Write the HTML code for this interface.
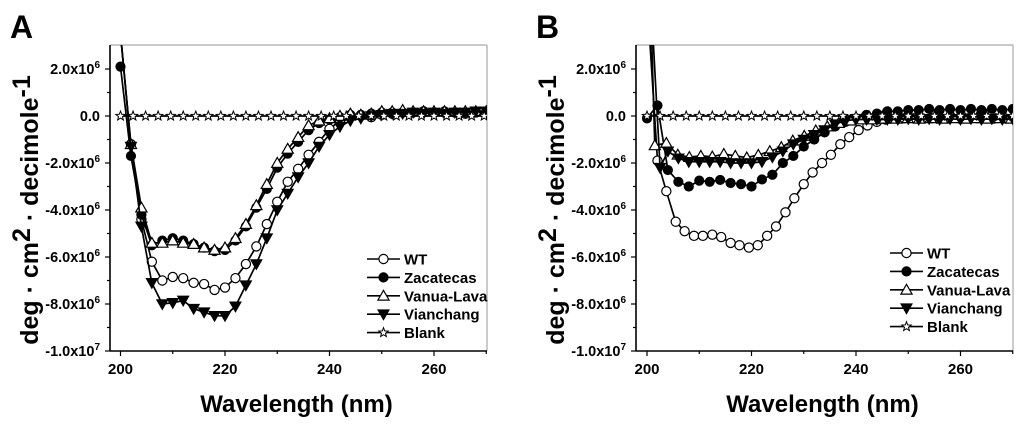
<!DOCTYPE html>
<html><head><meta charset="utf-8"><style>
html,body{margin:0;padding:0;background:#fff;}
svg text{font-family:"Liberation Sans",Arial,sans-serif;font-weight:bold;fill:#000;}
</style></head><body>
<svg id="chart" width="1024" height="424" viewBox="0 0 1024 424" xmlns="http://www.w3.org/2000/svg">
<defs><clipPath id="clipA"><rect x="110" y="45" width="377" height="306"/></clipPath>
<clipPath id="clipB"><rect x="636" y="45" width="377" height="306"/></clipPath></defs>
</svg>
<script>
// Values in units of 1e6 deg·cm2·decimole-1
const xTicks = [200, 220, 240, 260];
const yTicks = [2, 0, -2, -4, -6, -8, -10];
const yTickMant = ["2.0", "0.0", "-2.0", "-4.0", "-6.0", "-8.0", "-1.0"];
const yTickExp = ["6", "", "6", "6", "6", "6", "7"];
const seriesNames = ["WT", "Zacatecas", "Vanua-Lava", "Vianchang", "Blank"];

const aX = [200,202,204,206,208,210,212,214,216,218,220,222,224,226,228,230,232,234,236,238,240,242,244,246,248,250,252,254,256,258,260,262,264,266,268,270];
const aWT = [3.5,-1.2,-4.4,-6.2,-7.0,-6.85,-6.9,-7.1,-7.15,-7.4,-7.3,-6.9,-6.3,-5.55,-4.6,-3.65,-2.8,-2.25,-1.65,-1.1,-0.55,-0.2,-0.05,0,-0.05,0.05,0.1,0.15,0.15,0.2,0.15,0.15,0.15,0.1,0.15,0.15];
const aZac = [2.1,-1.7,-4.2,-5.5,-5.3,-5.2,-5.3,-5.45,-5.6,-5.75,-5.7,-5.3,-4.7,-3.9,-3.1,-2.2,-1.6,-1.1,-0.6,-0.3,-0.15,-0.05,0.05,0.05,0.1,0.15,0.15,0.15,0.15,0.15,0.15,0.2,0.15,0.15,0.2,0.2];
const aVan = [3.5,-1.2,-3.9,-5.4,-5.4,-5.3,-5.4,-5.45,-5.6,-5.7,-5.6,-5.2,-4.6,-3.8,-2.9,-2.0,-1.4,-0.9,-0.4,-0.2,-0.1,0,0.1,0.05,0.1,0.2,0.2,0.25,0.2,0.2,0.2,0.2,0.2,0.2,0.2,0.2];
const aVian = [3.5,-1.3,-4.7,-7.1,-8.0,-7.95,-7.85,-8.2,-8.35,-8.5,-8.5,-8.1,-7.2,-6.3,-5.2,-4.0,-3.3,-2.6,-2.0,-1.3,-0.8,-0.45,-0.2,-0.1,0,0.05,0.1,0.1,0.15,0.1,0.15,0.1,0.15,0.15,0.2,0.2];
const aBlankX = [200,202.4,204.8,207.2,209.6,212,214.4,216.8,219.2,221.6,224,226.4,228.8,231.2,233.6,236,238.4,240.8,243.2,245.6,248,250.4,252.8,255.2,257.6,260,262.4,264.8,267.2,269.6];
const aBlank = [0,0,0,0,0,0,0,0,0,0,0,0,0,0,0,0,0,0,0,0,0,0,0,0,0,0,0,0,0,0];

const bWTX = [200.3,202,203.7,205.5,207.2,209,210.7,212.5,214.2,216,217.7,219.5,221.2,223,224.7,226.5,228.2,230,231.7,233.5,235.2,237,238.7,240.5,242.2,244,245.7,247.5,249.2,251,252.7,254.5,256.2,258,259.7,261.5,263.2,265,266.7,268.5,270];
const bWT = [4.0,-1.9,-3.2,-4.5,-4.9,-5.1,-5.1,-5.05,-5.15,-5.4,-5.5,-5.6,-5.5,-5.1,-4.7,-4.1,-3.5,-2.9,-2.4,-2.0,-1.65,-1.2,-0.9,-0.6,-0.4,-0.25,-0.15,-0.1,-0.1,-0.1,-0.1,-0.1,-0.1,-0.1,-0.1,-0.1,-0.1,-0.1,-0.1,-0.1,-0.1];
const bZacX = [200,202,204,206,208,210,212,214,216,218,220,222,224,226,228,230,232,234,236,238,240,242,244,246,248,250,252,254,256,258,260,262,264,266,268,270];
const bZac = [-0.1,0.45,-2.3,-2.8,-3.0,-2.75,-2.8,-2.72,-2.85,-2.9,-3.0,-2.7,-2.5,-2.0,-1.7,-1.3,-1.0,-0.7,-0.45,-0.25,-0.1,0.05,0.1,0.2,0.2,0.25,0.25,0.3,0.25,0.3,0.25,0.3,0.25,0.3,0.25,0.3];
const bVanX = [200.8,201.5,203.7,205.9,208.1,210.3,212.5,214.7,216.9,219.1,221.3,223.5,225.7,227.9,230.1,232.3,234.5,236.7,238.9,241.1,243.3,245.5,247.7,249.9,252.1,254.3,256.5,258.7,260.9,263.1,265.3,267.5,269.7];
const bVan = [4.0,-1.25,-1.15,-1.65,-1.75,-1.7,-1.73,-1.62,-1.7,-1.77,-1.66,-1.5,-1.33,-1.05,-0.85,-0.62,-0.45,-0.3,-0.2,-0.15,-0.15,-0.12,-0.12,-0.1,-0.12,-0.1,-0.12,-0.1,-0.12,-0.1,-0.12,-0.1,-0.12];
const bVianX = [201,202.5,204,206,208,210,212,214,216,218,220,222,224,226,228,230,232,234,236,238,240,242,244,246,248,250,252,254,256,258,260,262,264,266,268,270];
const bVian = [4.0,-2.2,-1.5,-1.8,-1.95,-1.95,-1.95,-1.95,-2.0,-2.0,-2.0,-1.95,-1.75,-1.5,-1.2,-1.0,-0.8,-0.6,-0.35,-0.2,-0.15,-0.15,-0.15,-0.15,-0.15,-0.12,-0.15,-0.12,-0.15,-0.12,-0.15,-0.12,-0.15,-0.12,-0.15,-0.12];
const bBlankX = [200,202.5,205,207.5,210,212.5,215,217.5,220,222.5,225,227.5,230,232.5,235,237.5,240,242.5,245,247.5,250,252.5,255,257.5,260,262.5,265,267.5,270];
const bBlank = [0,0,0,0,0,0,0,0,0,0,0,0,0,0,0,0,0,0,0,0,0,0,0,0,0,0,0,0,0];

const NS = "http://www.w3.org/2000/svg";
const svg = document.getElementById('chart');
function mk(tag, attrs, parent){const e=document.createElementNS(NS,tag);for(const k in attrs)e.setAttribute(k,attrs[k]);(parent||svg).appendChild(e);return e;}

function marker(g, type, cx, cy){
  let m;
  if(type==='oc') m=mk('circle',{cx:cx,cy:cy,r:4.6,fill:'#fff',stroke:'#000','stroke-width':1.2},g);
  else if(type==='fc') m=mk('circle',{cx:cx,cy:cy,r:4.6,fill:'#000',stroke:'#000','stroke-width':1},g);
  else if(type==='ut') m=mk('polygon',{points:`${cx},${cy-5.5} ${cx-5.6},${cy+4.3} ${cx+5.6},${cy+4.3}`,fill:'#fff',stroke:'#000','stroke-width':1.2},g);
  else if(type==='dt') m=mk('polygon',{points:`${cx},${cy+5.5} ${cx-5.6},${cy-4.3} ${cx+5.6},${cy-4.3}`,fill:'#000',stroke:'#000','stroke-width':1},g);
  else {
    let p=[];for(let i=0;i<10;i++){const r=i%2?2.1:4.9;const a=-Math.PI/2+i*Math.PI/5;p.push((cx+r*Math.cos(a)).toFixed(2)+','+(cy+r*Math.sin(a)).toFixed(2));}
    m=mk('polygon',{points:p.join(' '),fill:'#fff',stroke:'#000','stroke-width':1},g);
  }
  
  
}

function panel(id, left, x200, series, legX, legY){
  const right=left+377, top=45, bottom=351, kx=5.225, y0=116, ky=23.5;
  const X=v=>x200+(v-200)*kx, Y=v=>y0-v*ky;
  const g=mk('g',{});
  
  
  const letter=mk('text',{x:left-100,y:38,'font-size':32},g);letter.textContent=id;
  
  mk('line',{x1:left,y1:top,x2:right,y2:top,stroke:'#aaa','stroke-width':1.2},g);
  mk('line',{x1:right,y1:top,x2:right,y2:bottom,stroke:'#aaa','stroke-width':1.2},g);
  const ax=mk('g',{},g);
  mk('line',{x1:left,y1:bottom,x2:right,y2:bottom,stroke:'#000','stroke-width':1.6},ax);
  for(let v=200;v<=270;v+=10){const maj=v%20===0;mk('line',{x1:X(v),y1:bottom,x2:X(v),y2:bottom+(maj?5:3),stroke:'#000','stroke-width':1.2},ax);}
  xTicks.forEach(v=>{const t=mk('text',{x:X(v),y:374,'font-size':15,'text-anchor':'middle'},ax);t.textContent=v;});
  const xt=mk('text',{x:(left+right)/2-2,y:412,'font-size':24,'text-anchor':'middle'},ax);xt.textContent='Wavelength (nm)';
  
  const ay=mk('g',{},g);
  mk('line',{x1:left,y1:top,x2:left,y2:bottom,stroke:'#000','stroke-width':1.6},ay);
  for(let v=-10;v<=2;v+=1){const maj=v%2===0;mk('line',{x1:left-(maj?5:3),y1:Y(v),x2:left,y2:Y(v),stroke:'#000','stroke-width':1.2},ay);}
  yTicks.forEach((v,i)=>{const t=mk('text',{x:left-10,y:Y(v)+5,'font-size':14.5,'text-anchor':'end'},ay);
    if(yTickExp[i]){t.textContent=yTickMant[i]+'x10';const s=mk('tspan',{'font-size':10,dy:-6},t);s.textContent=yTickExp[i];}
    else t.textContent=yTickMant[i];
    });
  const yl=mk('text',{x:0,y:0,'font-size':25,'text-anchor':'middle',transform:`translate(${left-72},210) rotate(-90)`},ay);
  
  yl.appendChild(document.createTextNode('deg · cm'));
  let s1=mk('tspan',{dy:-8,'font-size':25},yl);s1.textContent='2';
  let s2=mk('tspan',{dy:8},yl);s2.textContent=' · decimole';
  let s3=mk('tspan',{dy:-8,'font-size':25},yl);s3.textContent='-1';
  const pg=mk('g',{'clip-path':`url(#clip${id})`},g);
  series.forEach((s,si)=>{
    const sg=mk('g',{},pg);
    
    
    const d=s.x.map((v,i)=>(i?'L':'M')+X(v).toFixed(1)+','+Y(s.y[i]).toFixed(1)).join(' ');
    const ln=mk('path',{d:d,fill:'none',stroke:'#000','stroke-width':1.7},sg);
    
    s.x.forEach((v,i)=>marker(sg,s.m,X(v),Y(s.y[i])));
  });
  const lg=mk('g',{},g);
  series.forEach((s,i)=>{
    const yy=legY+i*18.4;
    const e=mk('g',{},lg);
    mk('line',{x1:legX,y1:yy,x2:legX+33,y2:yy,stroke:'#000','stroke-width':1.6},e);
    marker(e,s.m,legX+16.5,yy);
    const t=mk('text',{x:legX+37,y:yy+5.5,'font-size':15},e);t.textContent=seriesNames[i];
  });
}
panel('A',110,120.5,[
  {x:aX,y:aWT,m:'oc'},{x:aX,y:aZac,m:'fc'},{x:aX,y:aVan,m:'ut'},{x:aX,y:aVian,m:'dt'},{x:aBlankX,y:aBlank,m:'st'}],367,259);
panel('B',636,647,[
  {x:bWTX,y:bWT,m:'oc'},{x:bZacX,y:bZac,m:'fc'},{x:bVanX,y:bVan,m:'ut'},{x:bVianX,y:bVian,m:'dt'},{x:bBlankX,y:bBlank,m:'st'}],890,253);
</script>
</body></html>
